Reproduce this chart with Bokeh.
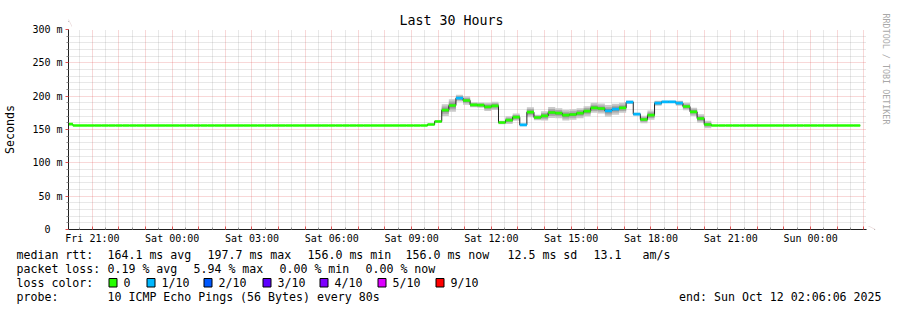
import math
from bokeh.plotting import figure
from bokeh.layouts import column
from bokeh.models import (FixedTicker, LinearAxis, Arrow, NormalHead, ColumnDataSource)
from bokeh.core.properties import value
from bokeh.embed import file_html
from bokeh.resources import INLINE

FONT = "DejaVu Sans Mono"
NB = "\u00a0"

# ---------------- data ----------------
# time axis in seconds after Fri Oct 10 20:00:00 2025
T_START = 366                 # Fri 20:06:06
T_END = T_START + 30 * 3600   # Sun 02:06:06
BIN_SECONDS = 960

# median rtt (ms) per 960 s bin, bin 0 starts Fri 20:00:00
median_ms = ([158.0] + [156.0] * 50 +
             [157.5, 162.0, 179.0, 186.0, 197.0, 193.5, 187.0, 186.5, 184.0, 185.5,
              160.5, 164.0, 168.5, 157.0, 176.0, 168.0, 170.5, 175.5, 174.5, 171.5,
              172.5, 174.5, 177.5, 182.5, 181.5, 178.0, 180.5, 182.5, 191.0, 173.0,
              165.0, 171.5, 189.5, 191.5, 191.5, 189.5, 184.5, 176.5, 166.5, 157.5] +
             [156.0] * 21)
# loss level per bin (index into loss legend)
loss_level = ([0] * 51 +
              [0, 0, 0, 0, 1, 0, 0, 0, 0, 0,
               0, 0, 0, 1, 0, 0, 0, 0, 0, 0,
               0, 0, 0, 0, 0, 1, 1, 0, 1, 1,
               0, 0, 1, 1, 1, 1, 0, 0, 0, 0] +
              [0] * 21)
# smoke spread (ms, min..max of the pings) per bin
smoke_ms = ([0.0] * 51 +
            [3.0, 4.0, 17.5, 19.0, 10.0, 12.5, 7.5, 8.0, 12.5, 12.5,
             5.0, 11.5, 11.0, 4.0, 15.0, 8.5, 14.0, 16.5, 15.0, 16.0,
             16.0, 15.0, 15.0, 15.0, 15.0, 17.5, 16.5, 15.0, 5.0, 4.0,
             11.0, 14.0, 7.5, 3.0, 3.0, 7.5, 11.0, 12.5, 12.5, 11.0] +
            [0.0] * 21)

loss_colors = ["#26ff00", "#00b8ff", "#0059ff", "#5e00ff", "#7e00ff", "#dd00ff", "#ff0000"]
loss_labels = ["0", "1/10", "2/10", "3/10", "4/10", "5/10", "9/10"]

x_tick_seconds = [3600, 14400, 25200, 36000, 46800, 57600, 68400, 79200, 90000, 100800]
x_tick_labels = ["Fri 21:00", "Sat 00:00", "Sat 03:00", "Sat 06:00", "Sat 09:00",
                 "Sat 12:00", "Sat 15:00", "Sat 18:00", "Sat 21:00", "Sun 00:00"]
y_ticks = [0, 50, 100, 150, 200, 250, 300]
y_tick_labels = ["0" + NB * 2, "50 m", "100 m", "150 m", "200 m", "250 m", "300 m"]

title = "Last 30 Hours"
y_label = "Seconds"
credit = "RRDTOOL / TOBI OETIKER"
stats_rtt = [("median rtt:", 16), ("164.1 ms avg", 107), ("197.7 ms max", 207),
             ("156.0 ms min", 307), ("156.0 ms now", 405), ("12.5 ms sd", 507),
             ("13.1", 593), ("am/s", 642)]
stats_loss = [("packet loss:", 16), ("0.19 % avg", 107), ("5.94 % max", 193),
              ("0.00 % min", 279), ("0.00 % now", 365)]
probe_text = "10 ICMP Echo Pings (56 Bytes) every 80s"
end_text = "end: Sun Oct 12 02:06:06 2025"

# ---------------- layout ----------------
W, H = 897, 310
FL, FT, FW, FH = 66, 29, 800, 200
FB = FT + FH
MAIN_H = 247
LEG_H = H - MAIN_H

p = figure(width=W, height=MAIN_H, x_range=(T_START, T_END), y_range=(0, 300),
           output_backend="svg", toolbar_location=None,
           min_border_left=FL, min_border_right=W - FL - FW,
           min_border_top=FT, min_border_bottom=MAIN_H - FB)
p.outline_line_color = None
p.background_fill_color = "white"
p.border_fill_color = "white"

# ticks / grid
hour_ticks = list(range(3600, T_END, 3600))
half_ticks = list(range(1800, T_END, 3600))
xt = FixedTicker(ticks=hour_ticks, minor_ticks=half_ticks)
yt = FixedTicker(ticks=y_ticks, minor_ticks=[v for v in range(10, 300, 10) if v % 50])
p.xaxis.ticker = xt
p.yaxis.ticker = yt
p.xgrid.ticker = xt
p.ygrid.ticker = yt
xo = {t: "" for t in hour_ticks}
for t, l in zip(x_tick_seconds, x_tick_labels):
    xo[t] = l
p.xaxis.major_label_overrides = xo
p.yaxis.major_label_overrides = {v: l for v, l in zip(y_ticks, y_tick_labels)}

for g in (p.xgrid, p.ygrid):
    g.grid_line_color = "#de5050"
    g.grid_line_alpha = 0.45
    g.grid_line_dash = "1 1"
    g.minor_grid_line_color = "#8f8f8f"
    g.minor_grid_line_alpha = 0.4
    g.minor_grid_line_dash = "1 1"

for ax in (p.xaxis, p.yaxis):
    ax.axis_line_color = "#1f1f1f"
    ax.major_tick_line_color = "#de5050"
    ax.minor_tick_line_color = "#8f8f8f"
    ax.major_label_text_font = FONT
    ax.major_label_text_font_size = "10px"
    ax.major_label_text_color = "black"
p.xaxis.major_tick_in = 3
p.xaxis.major_tick_out = 0
p.xaxis.minor_tick_in = 2
p.xaxis.minor_tick_out = 0
p.xaxis.major_label_standoff = 3
p.yaxis.major_tick_in = 0
p.yaxis.major_tick_out = 3
p.yaxis.minor_tick_in = 0
p.yaxis.minor_tick_out = 2
p.yaxis.major_label_standoff = 3

p.yaxis.axis_label = y_label
p.yaxis.axis_label_text_font = FONT
p.yaxis.axis_label_text_font_size = "11.6px"
p.yaxis.axis_label_text_font_style = "normal"
p.yaxis.axis_label_text_color = "black"
p.yaxis.axis_label_standoff = 12


def text_axis(side, label, size, color, standoff, orientation="parallel"):
    ax = LinearAxis(ticker=FixedTicker(ticks=[]), axis_label=label,
                    axis_line_color=None, major_tick_line_color=None,
                    minor_tick_line_color=None, major_label_standoff=0,
                    major_tick_out=0, major_tick_in=0,
                    axis_label_text_font=FONT, axis_label_text_font_size=size,
                    axis_label_text_font_style="normal", axis_label_text_color=color,
                    axis_label_standoff=standoff, axis_label_orientation=orientation)
    p.add_layout(ax, side)


# title centred on the whole image (frame centre is 18 px right of it)
text_axis("above", title + NB * 4, "13.3px", "black", 2)
# credit along the right edge, reading downwards, pushed towards the top
text_axis("right", credit + NB * 24, "8.4px", "#a8a8a8", 14)

# ---------------- data glyphs ----------------
n = len(median_ms)
left = [i * BIN_SECONDS for i in range(n)]
right = [(i + 1) * BIN_SECONDS for i in range(n)]

smoke_shades = [(1.0, "#cacaca"), (0.62, "#a8a8a8"), (0.3, "#888888")]
for frac, col in smoke_shades:
    src = ColumnDataSource(dict(
        l=[a for a, s in zip(left, smoke_ms) if s > 0],
        r=[b for b, s in zip(right, smoke_ms) if s > 0],
        b=[m - frac * s / 2 for m, s in zip(median_ms, smoke_ms) if s > 0],
        t=[m + frac * s / 2 for m, s in zip(median_ms, smoke_ms) if s > 0]))
    p.quad(left="l", right="r", bottom="b", top="t", source=src,
           fill_color=col, line_color=None)

p.step(left + [right[-1]], median_ms + [median_ms[-1]], mode="after",
       line_color="#202020", line_width=1)

band = ColumnDataSource(dict(l=left, r=right,
                             b=[m - 2.0 for m in median_ms],
                             t=[m + 2.0 for m in median_ms],
                             c=[loss_colors[k] for k in loss_level]))
p.quad(left="l", right="r", bottom="b", top="t", fill_color="c",
       line_color=None, source=band)

# axis arrows: shaft, then a solid head built from short strokes (added last)
sx = (T_END - T_START) / FW   # seconds per pixel
sy = 300 / FH                 # ms per pixel
ARROW = "#7f1f1f"


def stroke(x0, y0, x1, y1, color, width=1):
    p.add_layout(Arrow(end=NormalHead(size=0.5, fill_color=color, line_color=color),
                       x_start=x0, y_start=y0, x_end=x1, y_end=y1,
                       line_color=color, line_width=width))


stroke(T_END, 0, T_END + 8 * sx, 0, "#1f1f1f")
stroke(T_START, 300, T_START, 300 + 8 * sy, "#1f1f1f")
for k in range(7):
    half = 3.5 - 0.5 * k
    xk = T_END + (2.5 + k) * sx
    stroke(xk, -half * sy, xk, half * sy, ARROW)
    yk = 300 + (3.5 + k) * sy
    stroke(T_START - half * sx, yk, T_START + half * sx, yk, ARROW)

# ---------------- legend strip (page pixel coordinates) ----------------
q = figure(width=W, height=LEG_H, x_range=(0, W), y_range=(H, MAIN_H),
           output_backend="svg", toolbar_location=None,
           x_axis_type=None, y_axis_type=None,
           min_border_left=0, min_border_right=0, min_border_top=0, min_border_bottom=0)
q.outline_line_color = None
q.grid.visible = False
q.background_fill_color = "white"
q.border_fill_color = "white"
for fig in (p, q):
    if "frame_align" in fig.properties():
        fig.frame_align = False

rows_y = [254, 268, 282, 296]
tx, ty, tt = [], [], []
for txt, x in stats_rtt:
    tx.append(x); ty.append(rows_y[0]); tt.append(txt)
for txt, x in stats_loss:
    tx.append(x); ty.append(rows_y[1]); tt.append(txt)
tx.append(16); ty.append(rows_y[2]); tt.append("loss color:")
sw_x = [108, 146, 203, 262, 319, 377, 435]
for lab, x in zip(loss_labels, sw_x):
    tx.append(x + 15); ty.append(rows_y[2]); tt.append(lab)
tx += [16, 107]; ty += [rows_y[3], rows_y[3]]; tt += ["probe:", probe_text]

q.text(x=tx, y=ty, text=tt, text_font=value(FONT), text_font_size="11.6px",
       text_baseline="middle", text_align="left", text_color="black")
q.text(x=[881], y=[rows_y[3]], text=[end_text], text_font=value(FONT),
       text_font_size="11.6px", text_baseline="middle", text_align="right",
       text_color="black")
q.quad(left=[x + 0.5 for x in sw_x], right=[x + 8.5 for x in sw_x],
       top=[rows_y[2] - 4] * len(sw_x), bottom=[rows_y[2] + 4.5] * len(sw_x),
       fill_color=loss_colors, line_color="black", line_width=1)

layout = column(p, q, spacing=0)
open("out.html", "w").write(file_html(layout, INLINE))
